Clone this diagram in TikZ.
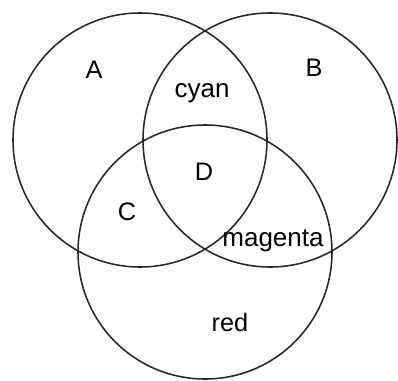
\documentclass[tikz,border=0pt]{standalone}
\usepackage{fontspec}
\setmainfont{Liberation Sans}
\begin{document}
\begin{tikzpicture}[x=0.025cm, y=-0.025cm,
                    every node/.style={inner sep=0pt, font=\fontsize{18}{20}\selectfont},
                    word/.style={font=\fontsize{18.5}{20}\selectfont}
                    ]
                    \useasboundingbox (0,0) rectangle (398,380);

                    \foreach \cx/\cy in {140/140,270/140,205/252}{
                        \draw[line width=1.1pt, black!85] (\cx,\cy) circle (127);
                    }

                    \node (A) at (94,70) {A};
                    \node (B) at (314,68) {B};
                    \node[word] (cyan) at (202,93) {cyan};
                    \node (D) at (204,172) {D};
                    \node (C) at (127,212) {C};
                    \node[word] (magenta) at (273,241) {magenta};
                    \node (red) at (230,322) {red};
                \end{tikzpicture}
\end{document}
